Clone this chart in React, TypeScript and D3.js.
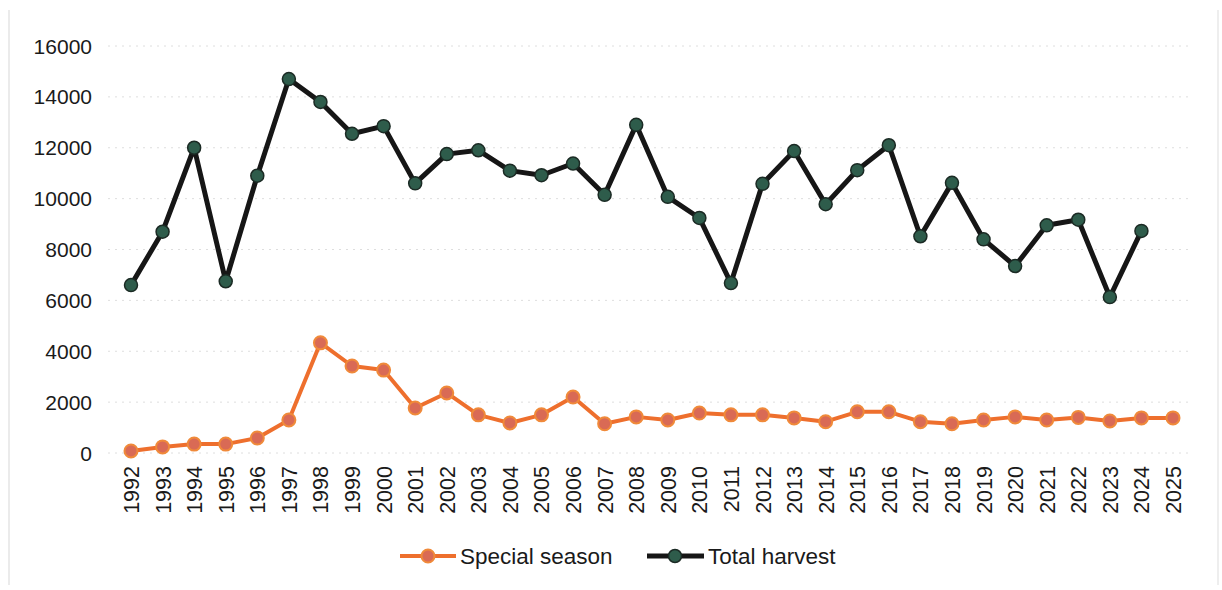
import React from "react";
import * as d3 from "d3";

const years: number[] = [
  1992, 1993, 1994, 1995, 1996, 1997, 1998, 1999, 2000, 2001, 2002, 2003, 2004, 2005, 2006, 2007, 2008,
  2009, 2010, 2011, 2012, 2013, 2014, 2015, 2016, 2017, 2018, 2019, 2020, 2021, 2022, 2023, 2024, 2025,
];

const specialSeason: number[] = [
  80, 240, 350, 350, 590, 1300, 4330, 3420, 3260, 1770, 2360, 1500, 1180, 1500, 2200, 1150, 1420,
  1300, 1570, 1500, 1500, 1380, 1230, 1620, 1620, 1230, 1150, 1300, 1420, 1300, 1400, 1260, 1380, 1380,
];

const totalHarvest: (number | null)[] = [
  6600, 8700, 12000, 6750, 10900, 14700, 13800, 12550, 12850, 10600, 11750, 11900, 11100, 10920, 11380,
  10150, 12900, 10070, 9240, 6680, 10580, 11870, 9780, 11120, 12100, 8520, 10620, 8400, 7350, 8950, 9170,
  6130, 8730, null,
];

const yTicks: number[] = [0, 2000, 4000, 6000, 8000, 10000, 12000, 14000, 16000];

const seriesNames = ["Special season", "Total harvest"];

const W = 1222;
const H = 590;
const FONT = "'Liberation Sans', Arial, sans-serif";

export default function App() {
  const x = d3.scalePoint<number>().domain(years).range([131, 1173]);
  const y = d3.scaleLinear().domain([0, 16000]).range([453, 46]);

  const lineSpecial = d3
    .line<number>()
    .x((_, i) => x(years[i])!)
    .y((d) => y(d));

  const lineTotal = d3
    .line<number | null>()
    .defined((d) => d !== null)
    .x((_, i) => x(years[i])!)
    .y((d) => y(d as number));

  const orangeLine = "#ee6f2d";
  const orangeFill = "#d96a55";
  const orangeStroke = "#f08a3a";
  const blackLine = "#161616";
  const greenFill = "#2e5c4b";
  const greenStroke = "#1b2a24";

  return (
    <svg
      width={W}
      height={H}
      style={{ position: "absolute", left: 0, top: 0, background: "#fff" }}
      fontFamily={FONT}
    >
      {/* faint borders from scan */}
      <line x1={9} x2={9} y1={10} y2={585} stroke="#e4e4e4" strokeWidth={1.5} />
      <line x1={1218} x2={1218} y1={10} y2={585} stroke="#e8e8e8" strokeWidth={1.5} />

      {/* gridlines */}
      {yTicks.map((t) => (
        <line
          key={"g" + t}
          x1={108}
          x2={1190}
          y1={y(t)}
          y2={y(t)}
          stroke="#dedede"
          strokeWidth={1}
          strokeDasharray="2,5"
        />
      ))}

      {/* y tick labels */}
      {yTicks.map((t) => (
        <text
          key={"y" + t}
          x={92}
          y={y(t)}
          textAnchor="end"
          dominantBaseline="central"
          fontSize={21}
          fill="#1a1a1a"
        >
          {t}
        </text>
      ))}

      {/* x tick labels */}
      {years.map((yr) => (
        <text
          key={"x" + yr}
          transform={`translate(${x(yr)! + 1}, 466) rotate(-90)`}
          textAnchor="end"
          dominantBaseline="central"
          fontSize={21.5}
          fill="#1a1a1a"
        >
          {yr}
        </text>
      ))}

      {/* Total harvest */}
      <path d={lineTotal(totalHarvest) || ""} fill="none" stroke={blackLine} strokeWidth={5} strokeLinejoin="round" />
      {totalHarvest.map((v, i) =>
        v === null ? null : (
          <circle key={"t" + i} cx={x(years[i])!} cy={y(v)} r={6.5} fill={greenFill} stroke={greenStroke} strokeWidth={1.5} />
        )
      )}

      {/* Special season */}
      <path d={lineSpecial(specialSeason) || ""} fill="none" stroke={orangeLine} strokeWidth={4} strokeLinejoin="round" />
      {specialSeason.map((v, i) => (
        <circle key={"s" + i} cx={x(years[i])!} cy={y(v)} r={6.5} fill={orangeFill} stroke={orangeStroke} strokeWidth={2} />
      ))}

      {/* legend */}
      <g>
        <line x1={400} x2={456} y1={556} y2={556} stroke={orangeLine} strokeWidth={4} />
        <circle cx={428} cy={556} r={6.5} fill={orangeFill} stroke={orangeStroke} strokeWidth={2} />
        <text x={460} y={556} dominantBaseline="central" fontSize={22.5} fill="#1a1a1a">
          {seriesNames[0]}
        </text>
        <line x1={647} x2={704} y1={556} y2={556} stroke={blackLine} strokeWidth={5} />
        <circle cx={675} cy={556} r={6.5} fill={greenFill} stroke={greenStroke} strokeWidth={1.5} />
        <text x={708} y={556} dominantBaseline="central" fontSize={22.5} fill="#1a1a1a">
          {seriesNames[1]}
        </text>
      </g>
    </svg>
  );
}
